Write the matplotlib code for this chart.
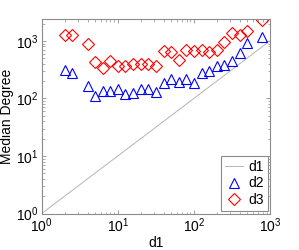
import numpy as np
import matplotlib
matplotlib.use("Agg")
import matplotlib.pyplot as plt

plt.rcParams["font.family"] = ["Liberation Sans", "DejaVu Sans"]
plt.rcParams["mathtext.fontset"] = "custom"
plt.rcParams["mathtext.rm"] = "Liberation Sans"
plt.rcParams["mathtext.it"] = "Liberation Sans:italic"
plt.rcParams["mathtext.bf"] = "Liberation Sans:bold"

# degree bins (log spaced)
d1_vals = [2, 2.5, 4, 5, 6.3, 7.9, 10, 12.6, 15.8, 20, 25, 31.6, 40, 50, 63, 79,
           100, 126, 158, 200, 251, 316, 398, 501, 794]
# median degree, d2
d2_med = [310, 278, 166, 110, 134, 134, 143, 119, 122, 145, 143, 131, 184, 216, 196, 216,
          184, 272, 295, 371, 376, 450, 604, 931, 1145]
# median degree, d3
d3_med = [1256, 1256, 866, 432, 340, 444, 368, 368, 394, 394, 394, 368, 662, 637, 472, 690,
          662, 690, 650, 703, 961, 1377, 1256, 1493, 2287]

ref_x = [1, 1000]

fig = plt.figure(figsize=(2.99, 2.5), dpi=100)
ax = fig.add_axes([0.1395, 0.146, 0.7635, 0.778])

ax.plot(ref_x, ref_x, color="#b4b4b4", lw=0.7, label="d1")
ax.plot(d1_vals, d2_med, ls="none", marker="^", ms=7.5, mfc="none", mec="#0000ff", mew=0.8, label="d2")
ax.plot(d1_vals, d3_med, ls="none", marker="D", ms=6, mfc="none", mec="#ff0000", mew=0.8, label="d3")

ax.set_xscale("log")
ax.set_yscale("log")
ax.set_xlim(1, 1000)
ax.set_ylim(1, 2400)
ax.set_xlabel("d1", fontsize=10)
ax.set_ylabel("Median Degree", fontsize=10)
ax.xaxis.set_label_coords(0.5, -0.115)
ax.yaxis.set_label_coords(-0.12, 0.5)

for s in ax.spines.values():
    s.set_color("#8c8c8c")
    s.set_linewidth(0.8)
ax.tick_params(which="both", direction="in", top=True, right=True, colors="#8c8c8c",
               labelcolor="black", labelsize=10)
ax.tick_params(which="major", length=3, width=0.6, pad=2)
ax.tick_params(which="minor", length=1.8, width=0.5)

leg = ax.legend(loc="lower right", fontsize=10, fancybox=False, framealpha=1,
                edgecolor="#8c8c8c", handlelength=1.3, borderaxespad=0.15,
                labelspacing=0.2, handletextpad=0.35, borderpad=0.3)
leg.get_frame().set_linewidth(0.8)

fig.savefig("out.png", dpi=100)
